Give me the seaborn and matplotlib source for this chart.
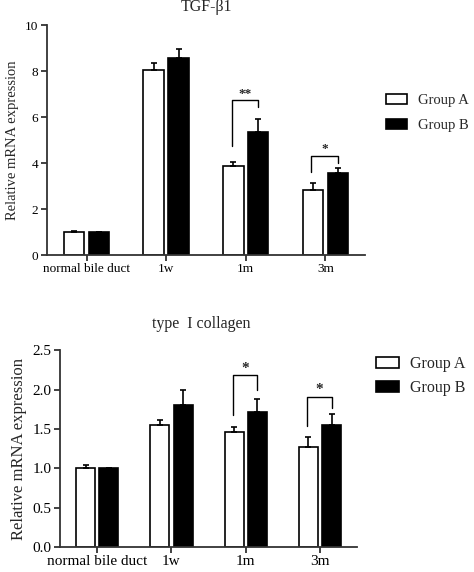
import matplotlib
matplotlib.use("Agg")
import matplotlib.pyplot as plt
import seaborn as sns
import pandas as pd
from matplotlib.patches import Patch
from matplotlib.container import BarContainer

# ---- data ----
categories = ["normal bile duct", "1w", "1m", "3m"]
groups = ["Group A", "Group B"]

tgf_a = [1.0, 8.06, 3.88, 2.84]
tgf_b = [1.0, 8.59, 5.35, 3.57]
tgf_err_a = [0.03, 0.29, 0.18, 0.29]
tgf_err_b = [0.01, 0.38, 0.59, 0.21]

col_a = [1.0, 1.55, 1.46, 1.27]
col_b = [1.0, 1.81, 1.71, 1.55]
col_err_a = [0.04, 0.06, 0.07, 0.13]
col_err_b = [0.005, 0.18, 0.165, 0.135]

tgf_yticks = [0, 2, 4, 6, 8, 10]
col_yticks = [0.0, 0.5, 1.0, 1.5, 2.0, 2.5]

# significance brackets: (category index, bracket top, left leg bottom, right leg bottom, star y, label)
tgf_sig = [(2, 6.75, 4.75, 6.43, 7.0, "**"), (3, 4.32, 3.6, 4.0, 4.62, "*")]
col_sig = [(2, 2.18, 1.68, 1.99, 2.27, "*"), (3, 1.91, 1.54, 1.77, 2.0, "*")]

sns.set_theme(style="ticks")
plt.rcParams["font.family"] = ["Liberation Serif", "DejaVu Serif"]

fig = plt.figure(figsize=(4.74, 5.72), dpi=100)
ax1 = fig.add_axes([0.0985, 0.554, 0.672, 0.402])
ax2 = fig.add_axes([0.1266, 0.0437, 0.627, 0.344])

palette = {"Group A": "white", "Group B": "black"}


def draw(ax, va, vb, ea, eb, yticks, ylim, title, title_x, title_pad, sig,
         fs_tick, fs_lab, fs_title, fs_leg, leg_anchor, leg_space, fmt):
    df = pd.DataFrame({
        "cat": categories * 2,
        "group": [groups[0]] * len(categories) + [groups[1]] * len(categories),
        "val": list(va) + list(vb),
    })
    sns.barplot(data=df, x="cat", y="val", hue="group", order=categories,
                hue_order=groups, palette=palette, edgecolor="black",
                linewidth=1.2, width=0.625, gap=0.18, errorbar=None,
                legend=False, ax=ax)
    bar_conts = [c for c in ax.containers if isinstance(c, BarContainer)]
    centers = {}
    for cont in bar_conts:
        for i, p in enumerate(cont.patches):
            centers.setdefault(i, []).append(p.get_x() + p.get_width() / 2)
    for cont, errs in zip(bar_conts, [ea, eb]):
        xs = [p.get_x() + p.get_width() / 2 for p in cont.patches]
        ys = [p.get_height() for p in cont.patches]
        ax.errorbar(xs, ys, yerr=[[0] * len(errs), errs], fmt="none",
                    ecolor="black", elinewidth=1.2, capsize=2.5, capthick=1.2,
                    zorder=1)
    for (ci, top, lb, rb, sy, lab) in sig:
        xl, xr = centers[ci][0] - 0.02, centers[ci][1]
        ax.plot([xl, xl, xr, xr], [lb, top, top, rb], color="black", lw=1.0)
        ax.text((xl + xr) / 2, sy, lab, ha="center", va="center",
                fontsize=fs_tick, fontweight="bold")
    ax.set_ylim(*ylim)
    ax.set_xlim(-0.5, 3.5)
    ax.set_yticks(yticks)
    ax.set_yticklabels([fmt.format(t) for t in yticks], fontsize=fs_tick)
    ax.set_xticks(range(len(categories)))
    ax.set_xticklabels(categories, fontsize=fs_tick)
    ax.set_xlabel("")
    ax.set_ylabel("Relative mRNA expression", fontsize=fs_lab)
    ax.set_title(title, fontsize=fs_title, pad=title_pad, x=title_x)
    for s in ["top", "right"]:
        ax.spines[s].set_visible(False)
    for s in ["left", "bottom"]:
        ax.spines[s].set_linewidth(1.3)
        ax.spines[s].set_color("#333333")
    ax.tick_params(axis="both", direction="out", length=4, width=1.3,
                   colors="#333333", labelcolor="black", pad=2)
    handles = [Patch(facecolor=palette[g], edgecolor="black", linewidth=1.2, label=g)
               for g in groups]
    fig.legend(handles=handles, loc="upper left", bbox_to_anchor=leg_anchor,
               bbox_transform=fig.transFigure, frameon=False, fontsize=fs_leg,
               handlelength=1.45, handleheight=0.7, handletextpad=0.7,
               labelspacing=leg_space, borderpad=0, borderaxespad=0)


draw(ax1, tgf_a, tgf_b, tgf_err_a, tgf_err_b, tgf_yticks, (0, 10),
     "TGF-β1", 0.5, 10, tgf_sig, 9.5, 10.5, 11.5, 10.5, (0.815, 0.836), 0.8, "{:.0f}")
draw(ax2, col_a, col_b, col_err_a, col_err_b, col_yticks, (0, 2.5),
     "type  I collagen", 0.475, 16, col_sig, 11, 12, 11.5, 11.5, (0.793, 0.378), 0.5, "{:.1f}")

fig.savefig("out.png", dpi=100, facecolor="white")
